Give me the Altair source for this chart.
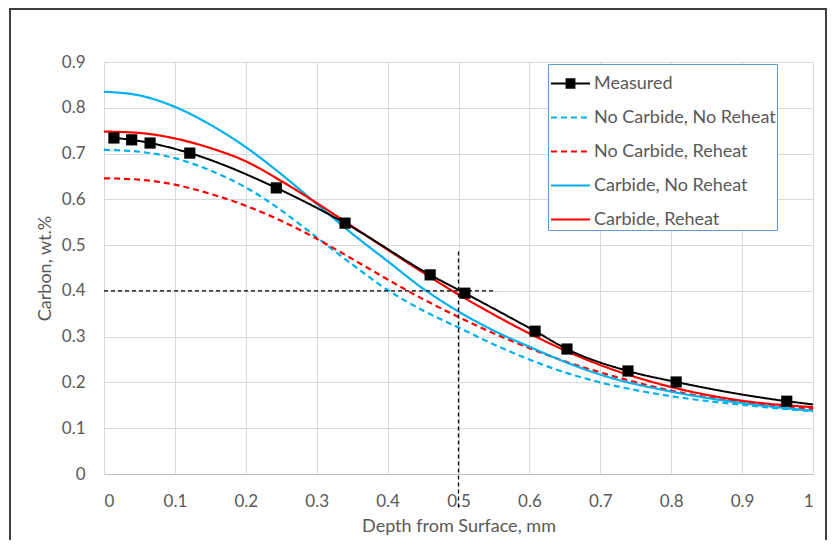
import altair as alt
import pandas as pd

# ---------------- data ----------------
depth_grid = [0.0, 0.05, 0.1, 0.15, 0.2, 0.25, 0.3, 0.35, 0.4, 0.45, 0.5,
              0.55, 0.6, 0.65, 0.7, 0.8, 0.9, 1.0]
no_carbide_no_reheat = [0.708, 0.704, 0.690, 0.663, 0.626, 0.576, 0.517, 0.458, 0.402,
                        0.357, 0.320, 0.283, 0.250, 0.222, 0.200, 0.170, 0.151, 0.137]
no_carbide_reheat = [0.646, 0.643, 0.632, 0.612, 0.586, 0.553, 0.514, 0.470, 0.425,
                     0.382, 0.343, 0.307, 0.275, 0.246, 0.222, 0.182, 0.157, 0.142]
carbide_no_reheat = [0.835, 0.827, 0.802, 0.763, 0.714, 0.655, 0.590, 0.525, 0.465,
                     0.405, 0.355, 0.313, 0.278, 0.245, 0.217, 0.180, 0.155, 0.138]
carbide_reheat = [0.748, 0.745, 0.733, 0.712, 0.683, 0.640, 0.592, 0.541, 0.490,
                  0.440, 0.392, 0.348, 0.307, 0.270, 0.238, 0.190, 0.160, 0.146]

measured_depth = [0.014, 0.039, 0.065, 0.121, 0.243, 0.340, 0.460, 0.509,
                  0.608, 0.653, 0.739, 0.807, 0.963]
measured_carbon = [0.734, 0.730, 0.723, 0.701, 0.625, 0.548, 0.435, 0.395,
                   0.312, 0.273, 0.225, 0.201, 0.159]
measured_line_end_depth = [1.0]
measured_line_end_carbon = [0.152]

series_names = ["Measured", "No Carbide, No Reheat", "No Carbide, Reheat",
                "Carbide, No Reheat", "Carbide, Reheat"]
series_colors = ["#000000", "#00B0F0", "#FF0000", "#00B0F0", "#FF0000"]
series_dashes = [[1, 0], [6, 4], [6, 4], [1, 0], [1, 0]]

# guide lines (reading of 0.4 wt.% at ~0.5 mm)
guide_x = [0.5, 0.0]
guide_x2 = [0.5, 0.553]
guide_y = [0.486, 0.4]
guide_y2 = [-0.075, 0.4]

x_ticks = [0, 0.1, 0.2, 0.3, 0.4, 0.5, 0.6, 0.7, 0.8, 0.9, 1.0]
y_ticks = [0, 0.1, 0.2, 0.3, 0.4, 0.5, 0.6, 0.7, 0.8, 0.9]

# ---------------- tables ----------------
curve_rows = []
for name, vals in [("No Carbide, No Reheat", no_carbide_no_reheat),
                   ("No Carbide, Reheat", no_carbide_reheat),
                   ("Carbide, No Reheat", carbide_no_reheat),
                   ("Carbide, Reheat", carbide_reheat)]:
    for d, c in zip(depth_grid, vals):
        curve_rows.append({"series": name, "depth": d, "carbon": c})
curves = pd.DataFrame(curve_rows)

meas_line = pd.DataFrame({
    "series": "Measured",
    "depth": measured_depth + measured_line_end_depth,
    "carbon": measured_carbon + measured_line_end_carbon,
})
meas_pts = pd.DataFrame({"series": "Measured", "depth": measured_depth,
                         "carbon": measured_carbon})
guides = pd.DataFrame({"x": guide_x, "x2": guide_x2, "y": guide_y, "y2": guide_y2})

FONT = "Lato"
GRAY = "#595959"

xscale = alt.Scale(domain=[0, 1], nice=False)
yscale = alt.Scale(domain=[0, 0.9], nice=False)

line_path = "M-1.15,0H1.15"
square_hatch = "".join(
    f"M-0.29,{v}H0.29" for v in ["-0.25", "-0.15", "-0.05", "0.05", "0.15", "0.25"])
measured_path = line_path + square_hatch

legend = alt.Legend(
    title=None, orient="none", legendX=444, legendY=2,
    symbolType=alt.ExprRef(
        expr=f"datum.value === 'Measured' ? '{measured_path}' : '{line_path}'"),
    symbolSize=1156, symbolStrokeWidth=2.2, symbolOffset=3,
    labelFont=FONT, labelFontSize=18, labelColor=GRAY, labelOffset=5, labelLimit=400,
    padding=1, rowPadding=6, strokeColor="#5B9BD5", fillColor="white",
)

color = alt.Color("series:N", scale=alt.Scale(domain=series_names, range=series_colors),
                  legend=legend)
dash = alt.StrokeDash("series:N", scale=alt.Scale(domain=series_names, range=series_dashes),
                      legend=legend)

X = alt.X("depth:Q", scale=xscale,
          axis=alt.Axis(values=x_ticks, format="~g", title="Depth from Surface, mm",
                        labelPadding=19, titlePadding=8, domainColor="#BFBFBF",
                        domainWidth=1))
Y = alt.Y("carbon:Q", scale=yscale,
          axis=alt.Axis(values=y_ticks, format="~g", title="Carbon, wt.%",
                        labelPadding=19, titlePadding=7, domain=False))

curve_layer = alt.Chart(curves).mark_line(strokeWidth=2.2, interpolate="monotone").encode(
    x=X, y=Y, color=color, strokeDash=dash, detail="series:N")

meas_line_layer = alt.Chart(meas_line).mark_line(strokeWidth=2, interpolate="monotone").encode(
    x="depth:Q", y="carbon:Q", color=color, strokeDash=dash)

meas_pt_layer = alt.Chart(meas_pts).mark_point(shape="square", filled=True, size=125,
                                               opacity=1, color="black").encode(
    x="depth:Q", y="carbon:Q")

guide_layer = alt.Chart(guides).mark_rule(color="black", strokeWidth=1.3,
                                          strokeDash=[4, 3]).encode(
    x="x:Q", x2="x2:Q", y="y:Q", y2="y2:Q")

frame = alt.Chart(pd.DataFrame({"k": [0]})).mark_rect(
    fill="transparent", stroke="#404040", strokeWidth=2).encode(
    x=alt.value(-94), x2=alt.value(722), y=alt.value(-53), y2=alt.value(520))

chart = alt.layer(frame, curve_layer, meas_line_layer, meas_pt_layer, guide_layer).properties(
    width=709, height=412,
    autosize=alt.AutoSizeParams(type="none"),
    padding={"left": 96, "top": 54, "right": 14, "bottom": 66},
).configure_view(stroke=None).configure_axis(
    labelFont=FONT, labelFontSize=17, labelColor=GRAY,
    titleFont=FONT, titleFontSize=18, titleColor=GRAY, titleFontWeight="normal",
    gridColor="#D9D9D9", gridWidth=1, ticks=False, tickSize=0,
)

chart.save("out.html", embed_options={"renderer": "svg", "actions": False})
